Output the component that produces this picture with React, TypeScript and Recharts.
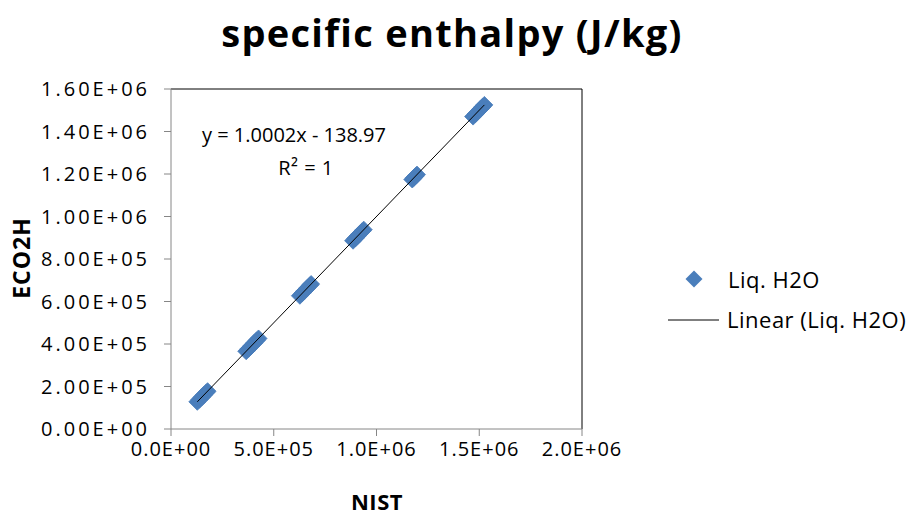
import React from 'react';
import { ScatterChart, Scatter, XAxis, YAxis, ReferenceLine, Customized } from 'recharts';

const nistValues = [128000, 138000, 149000, 160000, 172000, 178000, 366000, 378000, 391000, 404000, 417000, 426000, 627000, 639000, 651000, 664000, 676000, 682000, 886000, 897000, 908000, 919000, 930000, 938000, 1174000, 1182000, 1190000, 1197000, 1470000, 1482000, 1494000, 1505000, 1516000, 1525000];
const eco2hValues = [127900, 137880, 148900, 159890, 171900, 177950, 365950, 377930, 390940, 403930, 416950, 425960, 626980, 638990, 650990, 664000, 676000, 682000, 886030, 897050, 908040, 919050, 930050, 938060, 1174100, 1182100, 1190100, 1197110, 1470150, 1482160, 1494160, 1505170, 1516170, 1525170];
const trendX = [128000, 1525000];
const trendY = [127887, 1525166];

const xTicks = [0, 500000, 1000000, 1500000, 2000000];
const xTickLabels = ['0.0E+00', '5.0E+05', '1.0E+06', '1.5E+06', '2.0E+06'];
const yTicks = [0, 200000, 400000, 600000, 800000, 1000000, 1200000, 1400000, 1600000];
const yTickLabels = ['0.00E+00', '2.00E+05', '4.00E+05', '6.00E+05', '8.00E+05', '1.00E+06', '1.20E+06', '1.40E+06', '1.60E+06'];

const seriesName = 'Liq. H2O';
const trendName = 'Linear (Liq. H2O)';
const titleText = 'specific enthalpy (J/kg)';
const xTitle = 'NIST';
const yTitle = 'ECO2H';
const equationText = 'y = 1.0002x - 138.97';

const points = nistValues.map((x, i) => ({ x, y: eco2hValues[i] }));
const trend = trendX.map((x, i) => ({ x, y: trendY[i] }));

const BLUE = '#4A7EBB';
const FONT = '"Open Sans", sans-serif';

const Diamond = (props: any) => {
  const { cx, cy } = props;
  if (cx == null || cy == null) return null;
  const r = 8.5;
  return <path d={`M${cx},${cy - r}L${cx + r},${cy}L${cx},${cy + r}L${cx - r},${cy}Z`} fill={BLUE} stroke={BLUE} strokeWidth={0.8} strokeLinejoin="round" />;
};

const NoShape = () => <g />;

const Annotations = () => (
  <g fontFamily={FONT}>
    <text x={452} y={47} textAnchor="middle" fontSize={38} fontWeight={700} letterSpacing={1.3} fill="#000">{titleText}</text>
    <text x={377} y={510} textAnchor="middle" fontSize={22} fontWeight={700} letterSpacing={0.5} fill="#000">{xTitle}</text>
    <text x={30} y={258} textAnchor="middle" fontSize={23} fontWeight={700} letterSpacing={1} fill="#000" transform="rotate(-90 30 258)">{yTitle}</text>
    <text x={294} y={142} textAnchor="middle" fontSize={20} fill="#000">{equationText}</text>
    <text x={306} y={175} textAnchor="middle" fontSize={20} letterSpacing={0.5} fill="#000">R² = 1</text>
    <path d="M685.5,279L694,270.5L702.5,279L694,287.5Z" fill={BLUE} />
    <text x={728} y={288} fontSize={22} letterSpacing={0.5} fill="#000">{seriesName}</text>
    <line x1={668} y1={320} x2={719} y2={320} stroke="#000" strokeWidth={1} />
    <text x={727} y={328} fontSize={22} letterSpacing={0.5} fill="#000">{trendName}</text>
  </g>
);

export default function App() {
  return (
    <div style={{ position: 'absolute', left: 0, top: 0, background: '#fff' }}>
      <ScatterChart width={907} height={517} margin={{ top: 89, right: 325, bottom: 48, left: 0 }}>
        <XAxis
          type="number"
          dataKey="x"
          domain={[0, 2000000]}
          ticks={xTicks}
          tickFormatter={(v: number) => xTickLabels[xTicks.indexOf(v)]}
          height={40}
          tickSize={7}
          tickMargin={6}
          stroke="#868686"
          tick={{ fill: '#000', fontSize: 20, fontFamily: FONT, letterSpacing: 1 }}
          interval={0}
        />
        <YAxis
          type="number"
          dataKey="y"
          domain={[0, 1600000]}
          ticks={yTicks}
          tickFormatter={(v: number) => yTickLabels[yTicks.indexOf(v)]}
          width={171}
          tickSize={7}
          tickMargin={14}
          stroke="#868686"
          tick={{ fill: '#000', fontSize: 20, fontFamily: FONT, letterSpacing: 3 }}
          interval={0}
        />
        <ReferenceLine y={1600000} stroke="#000" strokeWidth={1} />
        <ReferenceLine x={2000000} stroke="#000" strokeWidth={1} />
        <Scatter name={seriesName} data={points} fill={BLUE} shape={Diamond} isAnimationActive={false} />
        <Scatter name={trendName} data={trend} line={{ stroke: '#000', strokeWidth: 1 }} shape={NoShape} isAnimationActive={false} />
        <Customized component={Annotations} />
      </ScatterChart>
    </div>
  );
}
